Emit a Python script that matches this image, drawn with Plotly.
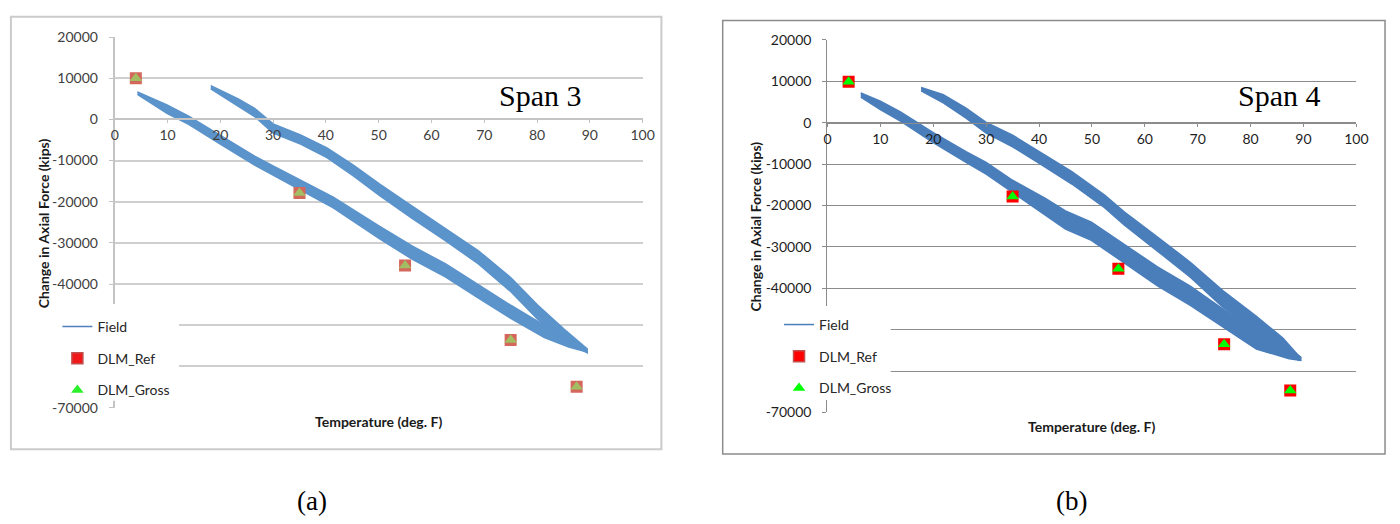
import plotly.graph_objects as go

W, H = 1400, 524

# ---------------- data ----------------
# Axis ticks
temp_ticks = [0, 10, 20, 30, 40, 50, 60, 70, 80, 90, 100]
temp_tick_text = ["0", "10", "20", "30", "40", "50", "60", "70", "80", "90", "100"]
force_ticks = [20000, 10000, 0, -10000, -20000, -30000, -40000, -50000, -60000, -70000]
force_tick_text = ["20000", "10000", "0", "-10000", "-20000", "-30000", "-40000",
                   "-50000", "-60000", "-70000"]

# DLM predictions (deg F, kips)
dlm_temp = [4, 35, 55, 75, 87.5]
dlm_ref_span3 = [10000, -17900, -35500, -53600, -64900]
dlm_gross_span3 = [10000, -17900, -35500, -53600, -64900]
dlm_ref_span4 = [9900, -17800, -35300, -53500, -64700]
dlm_gross_span4 = [9900, -17800, -35300, -53500, -64700]

# Field measurements, Span 3: envelope of the two hysteresis branches (deg F, kips)
span3_upper_T = [18.2, 23.4, 26.5, 30.0, 35.2, 40.2, 45.2, 50.2, 56.4, 62.7, 68.9, 75.1, 80.1, 85.1, 89.5]
span3_upper_hi = [8200, 5000, 2700, -1100, -3800, -6900, -11100, -15700, -21100, -26500,
                  -31900, -38500, -45100, -50900, -55700]
span3_upper_lo = [7400, 3200, 700, -3300, -6000, -9300, -13700, -18500, -24100, -29500,
                  -35100, -41900, -48500, -53700, -56700]
span3_lower_T = [4.3, 9.9, 14.0, 20.0, 26.5, 30.0, 35.0, 41.4, 50.2, 56.4, 62.7, 68.9, 75.1, 81.4, 86.0, 89.5]
span3_lower_hi = [6700, 3500, 800, -3800, -8900, -11300, -14700, -18900, -26000, -30800,
                  -35100, -40200, -45200, -50000, -53300, -55900]
span3_lower_lo = [6100, 1500, -1200, -6000, -11100, -13500, -17100, -21500, -29000, -34000,
                  -38300, -43400, -48400, -53000, -55300, -56500]

# Field measurements, Span 4
span4_upper_T = [17.7, 21.9, 26.2, 30.0, 35.0, 39.9, 46.2, 52.4, 56.1, 62.4, 68.6, 74.8, 81.1, 86.1, 89.2]
span4_upper_hi = [8500, 6800, 3500, 100, -3000, -6900, -11800, -17500, -21500, -27600,
                  -33700, -40600, -46800, -52000, -56500]
span4_upper_lo = [7700, 4800, 1100, -2500, -5800, -9700, -14800, -20500, -24700, -31000,
                  -37300, -44600, -50800, -55000, -57500]
span4_lower_T = [6.3, 10.0, 13.8, 20.0, 26.2, 30.0, 35.0, 41.2, 45.0, 49.9, 56.1, 62.4, 68.6, 74.8, 81.1, 87.3, 89.5]
span4_lower_hi = [7200, 5200, 2600, -2400, -7000, -9600, -13900, -18300, -21300, -24000,
                  -29400, -34800, -39500, -45000, -50700, -54600, -56600]
span4_lower_lo = [6200, 3200, 400, -4800, -9600, -12400, -16900, -22300, -25700, -28400,
                  -33800, -39400, -44100, -49400, -54700, -57000, -57400]


# ---------------- helpers (page pixel -> paper fraction) ----------------
def px(x):
    return x / W


def py(y):
    return 1 - y / H


def band_path(T, hi, lo):
    """Closed outline of one branch: upper edge forward, lower edge back."""
    return T + T[::-1], hi + lo[::-1]


def field_xy(uT, uhi, ulo, lT, lhi, llo):
    x1, y1 = band_path(uT, uhi, ulo)
    x2, y2 = band_path(lT, lhi, llo)
    return x1 + [None] + x2, y1 + [None] + y2


FONT = "Lato"

panels = [
    dict(name="a", xa="x", ya="y", legend="legend",
         field=field_xy(span3_upper_T, span3_upper_hi, span3_upper_lo,
                        span3_lower_T, span3_lower_hi, span3_lower_lo),
         ref=dlm_ref_span3, gross=dlm_gross_span3,
         field_color="#5b93cb", ref_color="#d4675b", gross_color="#a3bd62",
         leg_field="#4f81bd", leg_ref="#f01818", leg_ref_line="#c0504d", leg_gross="#2cf02c",
         grid="#cfcfcf", axis="#c4c4c4", tickcol="#404040", gw=2.0,
         xdom=(112, 646), ydom=(29, 412)),
    dict(name="b", xa="x2", ya="y2", legend="legend2",
         field=field_xy(span4_upper_T, span4_upper_hi, span4_upper_lo,
                        span4_lower_T, span4_lower_hi, span4_lower_lo),
         ref=dlm_ref_span4, gross=dlm_gross_span4,
         field_color="#4a7ebb", ref_color="#ff0000", gross_color="#00ff00",
         leg_field="#4a7ebb", leg_ref="#ff0000", leg_ref_line="#c0504d", leg_gross="#00ff00",
         grid="#8c8c8c", axis="#8c8c8c", tickcol="#1e1e1e", gw=1.4,
         xdom=(833, 1368), ydom=(32, 417)),
]

fig = go.Figure()

for p in panels:
    fx, fy = p["field"]
    fig.add_trace(go.Scatter(
        x=fx, y=fy, mode="lines", fill="toself", fillcolor=p["field_color"],
        line=dict(color=p["field_color"], width=1.5), name="Field",
        xaxis=p["xa"], yaxis=p["ya"], showlegend=False, hoverinfo="skip"))
    fig.add_trace(go.Scatter(
        x=dlm_temp, y=p["ref"], mode="markers", name="DLM_Ref",
        marker=dict(symbol="square", size=12, color=p["ref_color"], line=dict(width=0)),
        xaxis=p["xa"], yaxis=p["ya"], showlegend=False))
    fig.add_trace(go.Scatter(
        x=dlm_temp, y=p["gross"], mode="markers", name="DLM_Gross",
        marker=dict(symbol="triangle-up", size=11, color=p["gross_color"], line=dict(width=0)),
        xaxis=p["xa"], yaxis=p["ya"], showlegend=False))
    # legend entries
    fig.add_trace(go.Scatter(
        x=[None], y=[None], mode="lines", name="Field", legend=p["legend"],
        legendgroup=p["name"] + "1", line=dict(color=p["leg_field"], width=1.5),
        xaxis=p["xa"], yaxis=p["ya"]))
    fig.add_trace(go.Scatter(
        x=[None], y=[None], mode="markers", name="DLM_Ref", legend=p["legend"],
        legendgroup=p["name"] + "2",
        marker=dict(symbol="square", size=11, color=p["leg_ref"],
                    line=dict(color=p["leg_ref_line"], width=1.5)),
        xaxis=p["xa"], yaxis=p["ya"]))
    fig.add_trace(go.Scatter(
        x=[None], y=[None], mode="markers", name="DLM_Gross", legend=p["legend"],
        legendgroup=p["name"] + "3",
        marker=dict(symbol="triangle-up", size=11, color=p["leg_gross"]),
        xaxis=p["xa"], yaxis=p["ya"]))

layout = dict(
    width=W, height=H, margin=dict(l=0, r=0, t=0, b=0),
    paper_bgcolor="white", plot_bgcolor="rgba(0,0,0,0)",
    font=dict(family=FONT, size=13, color="#262626"),
    showlegend=True,
)

for i, p in enumerate(panels):
    sx = "" if i == 0 else "2"
    x0, x1 = p["xdom"]
    ytop, ybot = p["ydom"]
    zero_y = ybot - (0 - (-70000)) / 90000 * (ybot - ytop)
    layout["xaxis" + sx] = dict(
        domain=[px(x0), px(x1)], range=[0, 100], anchor="free", position=py(zero_y),
        tickvals=temp_ticks, ticktext=temp_tick_text,
        showgrid=False, zeroline=False, showline=True, linecolor=p["axis"], linewidth=p["gw"],
        ticks="outside", ticklen=3, tickwidth=1.2, tickcolor=p["axis"],
        ticklabelstandoff=0,
        tickfont=dict(family=FONT, size=14, color=p["tickcol"]), fixedrange=True)
    layout["yaxis" + sx] = dict(
        domain=[py(ybot), py(ytop)], range=[-70000, 20000], anchor="x" + sx,
        tickvals=force_ticks, ticktext=force_tick_text,
        showgrid=True, gridcolor=p["grid"], gridwidth=p["gw"], zeroline=False,
        showline=True, linecolor=p["axis"], linewidth=p["gw"],
        ticks="outside", ticklen=4, tickwidth=1.2, tickcolor=p["axis"],
        ticklabelstandoff=8,
        tickfont=dict(family=FONT, size=14, color=p["tickcol"]), fixedrange=True)

# legends sit over the lower-left part of each plot area
layout["legend"] = dict(x=px(54), y=py(312), xanchor="left", yanchor="top",
                        bgcolor="rgba(0,0,0,0)", borderwidth=0, tracegroupgap=10.5,
                        font=dict(family=FONT, size=14, color="#262626"))
layout["legend2"] = dict(x=px(784), y=py(310), xanchor="left", yanchor="top",
                         bgcolor="rgba(0,0,0,0)", borderwidth=0, tracegroupgap=10.5,
                         font=dict(family=FONT, size=14, color="#262626"))

shapes = [
    # chart frames
    dict(type="rect", xref="paper", yref="paper", x0=px(7), x1=px(665), y0=py(455), y1=py(8),
         line=dict(color="#cbcbcb", width=2), layer="below"),
    dict(type="rect", xref="paper", yref="paper", x0=px(727), x1=px(1397), y0=py(460), y1=py(12),
         line=dict(color="#8c8c8c", width=1.5), layer="below"),
    # white legend panels
    dict(type="rect", xref="paper", yref="paper", x0=px(44), x1=px(177), y0=py(405), y1=py(305),
         fillcolor="white", line=dict(width=0), layer="above"),
    dict(type="rect", xref="paper", yref="paper", x0=px(765), x1=px(897), y0=py(404), y1=py(307),
         fillcolor="white", line=dict(width=0), layer="above"),
]
layout["shapes"] = shapes

ann = []
title_font = dict(family=FONT, size=14, color="#1a1a1a")
for (tx, ty), (lx, ly) in [((379, 426), (40, 222)), ((1100.5, 431), (760, 224.5))]:
    ann.append(dict(text="<b>Temperature (deg. F)</b>", x=px(tx), y=py(ty), xref="paper", yref="paper",
                    showarrow=False, xanchor="center", yanchor="middle", font=title_font))
    ann.append(dict(text="<b>Change in Axial Force (kips)</b>", x=px(lx), y=py(ly), xref="paper",
                    yref="paper", showarrow=False, textangle=-90, xanchor="center", yanchor="middle",
                    font=title_font))
serif = "Liberation Serif"
ann.append(dict(text="Span 3", x=px(543), y=py(89.5), xref="paper", yref="paper", showarrow=False,
                xanchor="center", yanchor="middle", font=dict(family=serif, size=30, color="black")))
ann.append(dict(text="Span 4", x=px(1290.5), y=py(89.5), xref="paper", yref="paper", showarrow=False,
                xanchor="center", yanchor="middle", font=dict(family=serif, size=30, color="black")))
ann.append(dict(text="(a)", x=px(312), y=py(508), xref="paper", yref="paper", showarrow=False,
                xanchor="center", yanchor="middle", font=dict(family=serif, size=27, color="black")))
ann.append(dict(text="(b)", x=px(1080), y=py(508), xref="paper", yref="paper", showarrow=False,
                xanchor="center", yanchor="middle", font=dict(family=serif, size=27, color="black")))
layout["annotations"] = ann

fig.update_layout(**layout)
fig.write_html("out.html")
